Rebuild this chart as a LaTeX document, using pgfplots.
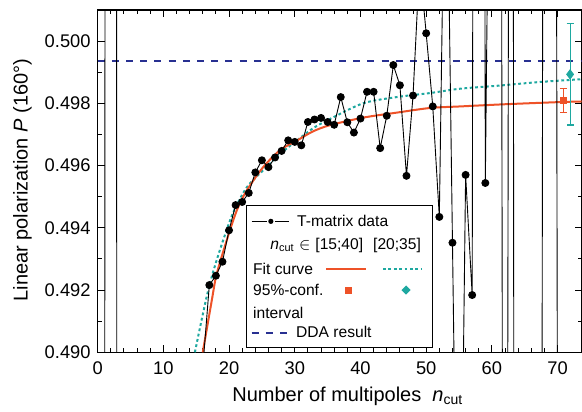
\documentclass[border=0pt]{standalone}
\usepackage{fontspec}
\setmainfont{Liberation Sans}
\usepackage{pgfplots}
\pgfplotsset{compat=1.18}
\usetikzlibrary{calc}

\definecolor{fitred}{RGB}{238,82,40}
\definecolor{fitteal}{RGB}{30,168,160}
\definecolor{ddablue}{RGB}{40,48,145}

% T-matrix data, n_cut = 1..72 (values far off the axis give the vertical strokes)
\pgfplotstableread{
n   P
1   0.46
2   0.80
3   0.461
4   0.40
5   0.42
6   0.43
7   0.45
8   0.46
9   0.47
10  0.475
11  0.48
12  0.483
13  0.485
14  0.487
15  0.488
16  0.4895
17  0.49216
18  0.49246
19  0.49291
20  0.49392
21  0.49473
22  0.49483
23  0.49512
24  0.49578
25  0.49617
26  0.49595
27  0.49626
28  0.49647
29  0.49681
30  0.49676
31  0.49665
32  0.49740
33  0.49748
34  0.49753
35  0.49740
36  0.49731
37  0.49820
38  0.49739
39  0.49706
40  0.49751
41  0.49837
42  0.49837
43  0.49656
44  0.49760
45  0.49923
46  0.49858
47  0.49567
48  0.49825
49  0.5025
50  0.50025
51  0.49790
52  0.49435
53  0.509
54  0.49352
55  0.478
56  0.49570
57  0.49184
58  0.60
59  0.49544
60  0.516
61  0.56
62  0.44
63  0.56
64  0.345
65  0.40
66  0.38
67  0.40
68  0.54
69  0.60
70  0.484
71  0.47
72  0.46
}\tmatrix

\begin{document}
\begin{tikzpicture}
\begin{axis}[
    scale only axis,
    width=241.95pt, height=171.15pt,
    xmin=0, xmax=73.65,
    ymin=0.490, ymax=0.501,
    xtick={0,10,20,30,40,50,60,70},
    minor x tick num=4,
    ytick={0.490,0.492,0.494,0.496,0.498,0.500},
    minor y tick num=1,
    tick align=inside,
    major tick length=3.5pt,
    minor tick length=2pt,
    every tick/.style={black, line width=0.5pt},
    axis line style={line width=0.6pt},
    ticklabel style={font=\fontsize{9.15}{10}\selectfont},
    /pgf/number format/assume math mode=true,
    yticklabel style={/pgf/number format/.cd, fixed, fixed zerofill, precision=3},
    xticklabel style={yshift=-1.4pt},
    xlabel={Number of multipoles\ \ \textit{n}\textsubscript{cut}},
    ylabel={Linear polarization \textit{P} (160°)},
    label style={font=\fontsize{10.3}{12}\selectfont},
    every axis x label/.style={at={(rel axis cs:0.517,0)}, anchor=base, yshift=-24.7pt},
    every axis y label/.style={at={(rel axis cs:0,0.503)}, xshift=-37.6pt, rotate=90, anchor=center},
    clip marker paths=true,
]
\coordinate (SW) at (rel axis cs:0,0);
\coordinate (NE) at (rel axis cs:1,1);

% DDA result
\addplot[ddablue, line width=0.9pt, dash pattern=on 3.5pt off 3.6pt] coordinates {(0,0.49935) (74,0.49935)};

% fit curve, n_cut in [20;35]
\addplot[fitteal, line width=1pt, dash pattern=on 1.4pt off 1.3pt, smooth] coordinates {
(14.8,0.4900) (16.5,0.4917) (17.6,0.4926) (19.1,0.4936) (20.65,0.4945) (22.7,0.4953)
(25.2,0.49585) (27.8,0.49638) (30.3,0.4968) (32.8,0.4972) (35.4,0.4975) (40.4,0.4980)
(45.5,0.4982) (50.6,0.49833) (55.2,0.49847) (61.2,0.49857) (67,0.49868) (74,0.49878)};

% fit curve, n_cut in [15;40]
\addplot[fitred, line width=1pt, smooth] coordinates {
(16.0,0.4900) (17.4,0.4917) (18.1,0.4925) (19.65,0.4936) (21.2,0.49457) (22.7,0.4952)
(25.2,0.49595) (27.8,0.4965) (30.3,0.4968) (32.8,0.4971) (35.4,0.4973) (40.4,0.49754)
(45.5,0.4977) (50.6,0.49785) (55.2,0.4979) (62,0.49797) (70.4,0.49804) (74,0.49806)};

% T-matrix data
\addplot[black, line width=0.45pt, mark=*, mark size=1.75pt, mark options={fill=black}] table[x=n, y=P] {\tmatrix};

% 95%-confidence intervals
\addplot[fitred, only marks, mark=square*, mark size=1.6pt,
    error bars/.cd, y dir=both, y explicit,
    error bar style={line width=0.6pt},
    error mark options={rotate=90, mark size=1.7pt, line width=0.6pt}]
    coordinates {(70.84,0.49809) +- (0,0.00038)};
\addplot[fitteal, only marks, mark=diamond*, mark size=2.3pt,
    error bars/.cd, y dir=both, y explicit,
    error bar style={line width=0.6pt},
    error mark options={rotate=90, mark size=1.7pt, line width=0.6pt}]
    coordinates {(71.9,0.49893) +- (0,0.00163)};
\end{axis}

% legend, placed in pixel units of the reference (origin at top left)
\begin{scope}[shift={($(SW)+(-48.8pt,176.15pt)$)}, x=0.5pt, y=-0.5pt,
    every node/.style={inner sep=0pt, anchor=base west, font=\fontsize{7.8}{9}\selectfont}]
\draw[fill=white, line width=0.5pt] (246,205) rectangle (432,347);
\draw[black, line width=0.45pt] (251.7,221.3) -- (266.7,221.3) (275,221.3) -- (289.3,221.3);
\fill[black] (270.8,221.3) circle (2.6);
\node at (296.7,226.3) {T-matrix data};
\node at (270,249.6) {\textit{n}\textsubscript{cut} $\in$};
\node at (315,249.6) {[15;40]};
\node at (372.7,249.6) {[20;35]};
\node at (252.7,274.6) {Fit curve};
\draw[fitred, line width=1pt] (326,269) -- (365.7,269);
\draw[fitteal, line width=1pt, dash pattern=on 1.4pt off 1.3pt] (383,269) -- (421.7,269);
\node at (252.7,295.6) {95\%-conf.};
\fill[fitred] (344.8,286.5) rectangle (351.8,293.5);
\fill[fitteal] (406,285.4) -- (410.6,290) -- (406,294.6) -- (401.4,290) -- cycle;
\node at (252.7,318.3) {interval};
\draw[ddablue, line width=0.9pt, dash pattern=on 3.5pt off 3.6pt] (251.7,332.7) -- (290,332.7);
\node at (295.7,337.6) {DDA result};
\end{scope}

\pgfresetboundingbox
\path ($(SW)+(-48.8pt,-29.35pt)$) rectangle ($(NE)+(0.2pt,5pt)$);
\end{tikzpicture}
\end{document}
